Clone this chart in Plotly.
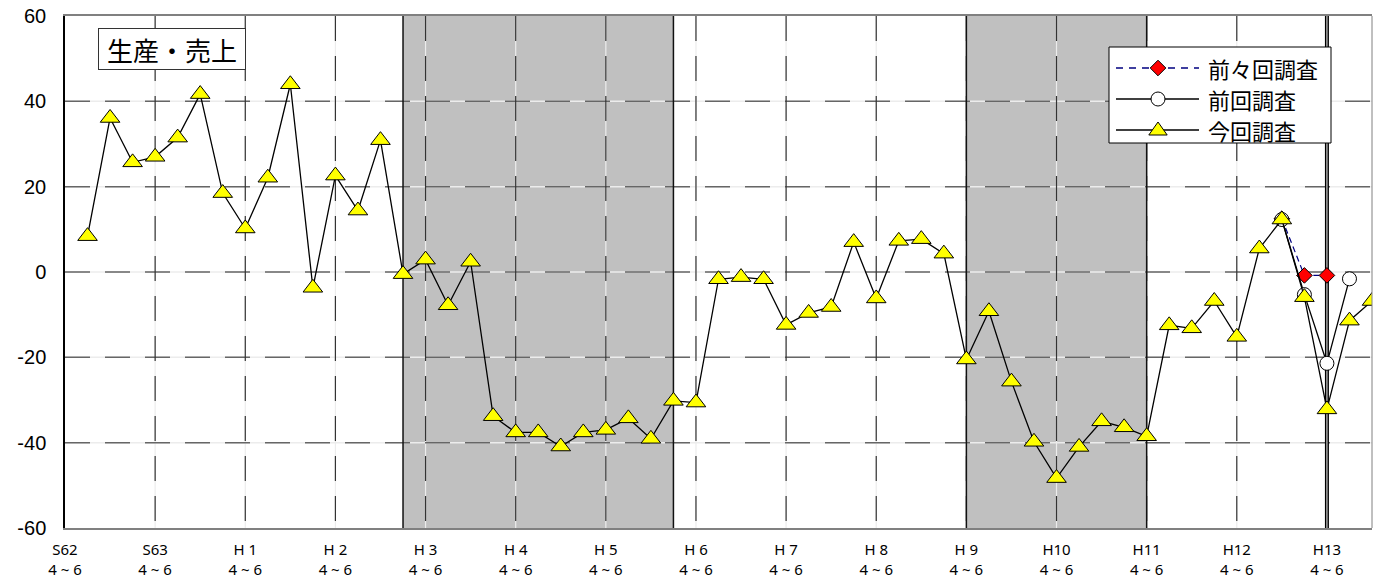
import plotly.graph_objects as go

# ---- data -------------------------------------------------------------
# Fiscal-year tick labels; each tick sits on the April-June quarter
year_labels = ["S62", "S63", "H 1", "H 2", "H 3", "H 4", "H 5", "H 6",
               "H 7", "H 8", "H 9", "H10", "H11", "H12", "H13"]
quarter_label = "4 ~ 6"

# Quarter index: 0 = S62 Apr-Jun, one step per quarter
quarters = list(range(1, 59))
current_survey = [8.4, 36.1, 25.7, 27.0, 31.5, 41.7, 18.5, 10.2, 22.1, 44.0,
                  -3.7, 22.6, 14.4, 30.9, -0.5, 2.9, -7.8, 2.4, -33.8, -37.6,
                  -37.6, -40.9, -37.6, -37.0, -34.3, -39.1, -30.2, -30.6, -1.7, -1.2,
                  -1.7, -12.4, -9.6, -8.2, 7.0, -6.2, 7.3, 7.7, 4.3, -20.5,
                  -9.2, -25.7, -39.8, -48.3, -41.0, -35.0, -36.4, -38.5, -12.5, -13.2,
                  -6.8, -15.2, 5.5, 12.3, -5.9, -32.2, -11.4, -6.8]

previous_quarters = [54, 55, 56, 57]
previous_survey = [12.3, -5.3, -21.4, -1.6]

before_previous_quarters = [54, 55, 56]
before_previous_survey = [12.5, -0.8, -0.8]

# Recession periods (quarter index)
recession_start = [15, 40]
recession_end = [27, 48]

y_ticks = [-60, -40, -20, 0, 20, 40, 60]
latest_quarter = 56

# ---- layout geometry --------------------------------------------------
W, H = 1373, 581
ML, MR, MT, MB = 65, 1, 16, 53
PW, PH = W - ML - MR, H - MT - MB
X_MIN, X_MAX = 0, 58
Y_MIN, Y_MAX = -60, 60


def px(x):
    return (x - ML) / PW


def py(y):
    return (H - MB - y) / PH


GRID_DASH = "25px,15px"
shapes = []

# shaded recession bands
for s, e in zip(recession_start, recession_end):
    shapes.append(dict(type="rect", xref="x", yref="y", x0=s, x1=e, y0=Y_MIN, y1=Y_MAX,
                       fillcolor="#c0c0c0", line=dict(width=0), layer="below"))

h_grid = [v for v in y_ticks if Y_MIN < v < Y_MAX]
v_grid = [4 * i for i in range(1, len(year_labels) - 1)]

# light underlay so the dash gaps read white over the shaded bands
for v in h_grid:
    shapes.append(dict(type="line", xref="x", yref="y", x0=X_MIN, x1=X_MAX, y0=v, y1=v,
                       line=dict(color="#ececec", width=1.5), layer="below"))
for v in v_grid:
    shapes.append(dict(type="line", xref="x", yref="y", x0=v, x1=v, y0=Y_MAX, y1=Y_MIN,
                       line=dict(color="#ececec", width=1.2), layer="below"))
# dashed grid
for v in h_grid:
    shapes.append(dict(type="line", xref="x", yref="y", x0=X_MIN, x1=X_MAX, y0=v, y1=v,
                       line=dict(color="#666666", width=1.5, dash=GRID_DASH), layer="below"))
for v in v_grid:
    shapes.append(dict(type="line", xref="x", yref="y", x0=v, x1=v, y0=Y_MAX, y1=Y_MIN,
                       line=dict(color="#333333", width=1.2, dash=GRID_DASH), layer="below"))

# band edges
for s, e in zip(recession_start, recession_end):
    for xv in (s, e):
        shapes.append(dict(type="line", xref="x", yref="y", x0=xv, x1=xv, y0=Y_MIN, y1=Y_MAX,
                           line=dict(color="#111111", width=1.5), layer="below"))

# latest-quarter marker line (double rule)
shapes.append(dict(type="line", xref="x", yref="y", x0=latest_quarter, x1=latest_quarter,
                   y0=Y_MIN, y1=Y_MAX, line=dict(color="#000000", width=4), layer="below"))
shapes.append(dict(type="line", xref="x", yref="y", x0=latest_quarter, x1=latest_quarter,
                   y0=Y_MIN, y1=Y_MAX, line=dict(color="#cfcfcf", width=1.2), layer="below"))

# right frame edge
shapes.append(dict(type="line", xref="paper", yref="paper", x0=1, x1=1, y0=0, y1=1,
                   line=dict(color="#808080", width=1), layer="above"))

# ---- legend box -------------------------------------------------------
LEG_X0, LEG_X1, LEG_Y0, LEG_Y1 = 1109, 1331, 47, 143
shapes.append(dict(type="rect", xref="paper", yref="paper",
                   x0=px(LEG_X0), x1=px(LEG_X1), y0=py(LEG_Y1), y1=py(LEG_Y0),
                   fillcolor="white", line=dict(color="#000000", width=1), layer="above"))

legend_rows = [68, 99, 130]
legend_names = ["前々回調査", "前回調査", "今回調査"]
SAMPLE_X0, SAMPLE_X1, SAMPLE_XM, TEXT_X = 1116, 1199, 1158, 1206

shapes.append(dict(type="line", xref="paper", yref="paper",
                   x0=px(SAMPLE_X0), x1=px(SAMPLE_X1), y0=py(legend_rows[0]), y1=py(legend_rows[0]),
                   line=dict(color="#000080", width=1.5, dash="7px,6px"), layer="above"))
shapes.append(dict(type="path", xref="paper", yref="paper", xsizemode="pixel", ysizemode="pixel",
                   xanchor=px(SAMPLE_XM), yanchor=py(legend_rows[0]),
                   path="M-7.8,0 L0,7.8 L7.8,0 L0,-7.8 Z",
                   fillcolor="#ff0000", line=dict(color="#000000", width=1), layer="above"))
for row in legend_rows[1:]:
    shapes.append(dict(type="line", xref="paper", yref="paper",
                       x0=px(SAMPLE_X0), x1=px(SAMPLE_X1), y0=py(row), y1=py(row),
                       line=dict(color="#000000", width=1.3), layer="above"))
shapes.append(dict(type="circle", xref="paper", yref="paper", xsizemode="pixel", ysizemode="pixel",
                   xanchor=px(SAMPLE_XM), yanchor=py(legend_rows[1]),
                   x0=-7, x1=7, y0=-7, y1=7,
                   fillcolor="#ffffff", line=dict(color="#000000", width=1), layer="above"))
shapes.append(dict(type="path", xref="paper", yref="paper", xsizemode="pixel", ysizemode="pixel",
                   xanchor=px(SAMPLE_XM), yanchor=py(legend_rows[2]),
                   path="M-9.2,-5 L9.2,-5 L0,8 Z",
                   fillcolor="#ffff00", line=dict(color="#000000", width=1), layer="above"))

annotations = []
for row, name in zip(legend_rows, legend_names):
    annotations.append(dict(xref="paper", yref="paper", x=px(TEXT_X), y=py(row),
                            xanchor="left", yanchor="middle", showarrow=False, text=name,
                            font=dict(family="Noto Sans CJK JP", size=22, color="#000000")))

# chart title box
annotations.append(dict(xref="paper", yref="paper", x=px(98), y=py(28),
                        xanchor="left", yanchor="top", showarrow=False, text="生産・売上",
                        width=146, height=40, align="center", valign="middle",
                        bordercolor="#333333", borderwidth=1, borderpad=0, bgcolor="#ffffff",
                        font=dict(family="Noto Sans CJK JP", size=26, color="#000000")))

# ---- traces -----------------------------------------------------------
fig = go.Figure()
fig.add_trace(go.Scatter(
    x=before_previous_quarters, y=before_previous_survey, mode="lines+markers",
    name="前々回調査", line=dict(color="#000080", width=1.2, dash="6px,4px"),
    marker=dict(symbol="diamond", size=12, color="#ff0000", line=dict(color="#000000", width=1)),
))
fig.add_trace(go.Scatter(
    x=previous_quarters, y=previous_survey, mode="lines+markers",
    name="前回調査", line=dict(color="#000000", width=1.3),
    marker=dict(symbol="circle", size=14, color="#ffffff", line=dict(color="#000000", width=1)),
))
fig.add_trace(go.Scatter(
    x=quarters, y=current_survey, mode="lines+markers",
    name="今回調査", line=dict(color="#000000", width=1.3),
    marker=dict(symbol="triangle-up", size=17, color="#ffff00", line=dict(color="#000000", width=1)),
))

tick_vals = [4 * i for i in range(len(year_labels))]
tick_text = [f"{y}<br>{quarter_label}" for y in year_labels]

fig.update_layout(
    width=W, height=H,
    margin=dict(l=ML, r=MR, t=MT, b=MB, pad=0, autoexpand=False),
    paper_bgcolor="#ffffff", plot_bgcolor="#ffffff",
    showlegend=False,
    shapes=shapes, annotations=annotations,
    xaxis=dict(range=[X_MIN, X_MAX], tickvals=tick_vals, ticktext=tick_text,
               showgrid=False, zeroline=False, showline=True, linecolor="#808080",
               linewidth=2, mirror=True, ticks="", ticklabelstandoff=7, automargin=False,
               tickfont=dict(family="Noto Sans", size=15, color="#000000")),
    yaxis=dict(range=[Y_MIN, Y_MAX], tickvals=y_ticks, ticktext=[str(v) for v in y_ticks],
               showgrid=False, zeroline=False, showline=True, linecolor="#000000",
               linewidth=1.5, ticks="", ticklabelstandoff=13, automargin=False,
               tickfont=dict(family="Liberation Sans", size=20, color="#000000")),
)

fig.write_html("out.html")
